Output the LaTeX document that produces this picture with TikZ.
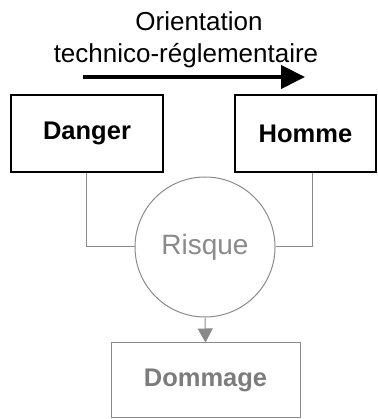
\documentclass[tikz,border=0pt]{standalone}
\usepackage{fontspec}
\setmainfont{Liberation Sans}
\usetikzlibrary{arrows.meta}
\definecolor{lg}{HTML}{8A8A8A}
\definecolor{dg}{HTML}{7C7C7C}
\begin{document}
\begin{tikzpicture}[x=1pt,y=1pt,
  box/.style={draw=black,line width=1.3pt,minimum width=152pt,minimum height=77pt,inner sep=0pt,font=\fontsize{25.5}{30}\selectfont\bfseries},
  gbox/.style={draw=lg,line width=1pt,minimum width=189pt,minimum height=75pt,inner sep=0pt,text=dg,font=\fontsize{25.5}{30}\selectfont\bfseries},
  conn/.style={draw=lg,line width=1pt},
  title/.style={font=\fontsize{26}{30}\selectfont,inner sep=0pt}]
\useasboundingbox (0,0) rectangle (377,419);
\node[title,anchor=base] (t1) at (199,388) {Orientation};
\node[title,anchor=base] (t2) at (186,356) {technico-réglementaire};
\coordinate (a1) at (83,342);
\coordinate (a2) at (305,342);
\draw[line width=4pt,-{Triangle[length=24pt,width=23pt]}] (a1) -- (a2);
\node[box] (danger) at (87,285.5) {Danger};
\node[box,minimum width=141pt] (homme) at (305.5,285.5) {Homme};
\node[circle,draw=lg,line width=1pt,minimum size=140pt,inner sep=0pt,text=lg,font=\fontsize{28}{32}\selectfont] (risque) at (205,172) {Risque};
\node[gbox] (dommage) at (205.5,38.5) {Dommage};
\draw[conn] (danger.south -| 86,0) |- (risque.west);
\draw[conn] (homme.south -| 312,0) |- (risque.east);
\draw[conn,-{Triangle[length=14pt,width=15pt]}] (risque.south) -- (dommage.north);
\end{tikzpicture}
\end{document}
